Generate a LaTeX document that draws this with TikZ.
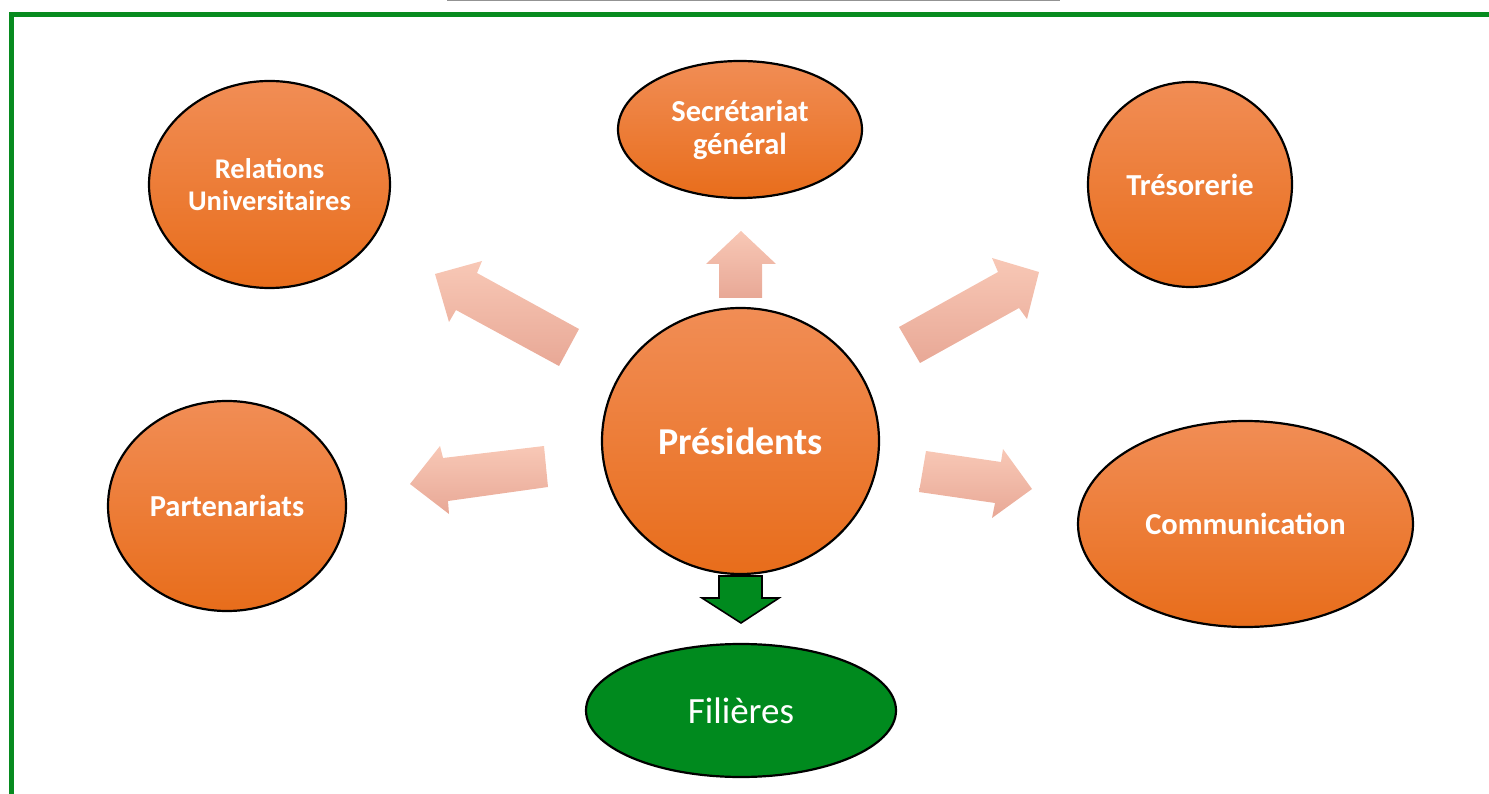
\documentclass[tikz,border=0pt]{standalone}
\usepackage{fontspec}
\setmainfont{Carlito}
\usetikzlibrary{shapes.geometric}
\definecolor{frgreen}{HTML}{078B1F}
\definecolor{elgreen}{HTML}{008A1E}
\definecolor{ortop}{HTML}{F18D55}
\definecolor{ormid}{HTML}{F47D2C}
\definecolor{orbot}{HTML}{E86D1B}
\definecolor{artop}{HTML}{F8C8B6}
\definecolor{armid}{HTML}{F6C0AC}
\definecolor{arbot}{HTML}{E8A896}
\tikzset{
  orangeell/.style={ellipse, draw=black, line width=2.2pt, top color=ortop, middle color=ormid, bottom color=orbot, inner sep=0pt, text=white, font=\bfseries\fontsize{30.5}{33}\selectfont, align=center},
  greenell/.style={ellipse, draw=black, line width=2.2pt, fill=elgreen, inner sep=0pt, text=white, font=\fontsize{37}{44}\selectfont, align=center},
  blockarrow/.style={top color=artop, middle color=armid, bottom color=arbot},
  downarrow/.style={fill=elgreen, draw=black, line width=1.6pt, line join=miter}
}
\begin{document}
\begin{tikzpicture}[x=1pt,y=-1pt]
\useasboundingbox (0,0) rectangle (1489,794);
% top gray edge of box above
\draw[gray!85, line width=2.5pt] (447,0) -- (1060,0);
% green frame
\draw[frgreen, line width=5pt] (11,800) -- (11,14.5) -- (1500,14.5);

% green down arrow (behind the ellipses)
\draw[downarrow] (719,576) -- (762,576) -- (762,598) -- (779,598) -- (741,623) -- (702,598) -- (719,598) -- cycle;

% ellipses
\node[orangeell, minimum width=277pt, minimum height=266pt, font=\bfseries\fontsize{38}{44}\selectfont] (pres) at (740.5,441) {Présidents};
\node[orangeell, minimum width=244pt, minimum height=137pt] (sec) at (740,129.5) {Secrétariat\\général};
\node[orangeell, minimum width=241pt, minimum height=207pt, font=\bfseries\fontsize{28.5}{32}\selectfont] (rel) at (269.5,184.5) {Relations\\Universitaires};
\node[orangeell, minimum width=204pt, minimum height=205pt] (tre) at (1190,184.5) {Trésorerie};
\node[orangeell, minimum width=238pt, minimum height=210pt] (par) at (227,506) {Partenariats};
\node[orangeell, minimum width=335pt, minimum height=206pt] (com) at (1245.5,524) {Communication};
\node[greenell, minimum width=310pt, minimum height=133pt] (fil) at (741,710.5) {Filières};

% block arrows
\shade[blockarrow] (741,231) -- (776,264) -- (762,264) -- (762,298) -- (719,298) -- (719,264) -- (706,264) -- cycle;
\shade[blockarrow] (435,274) -- (482,261) -- (477,273) -- (579,329) -- (559,366) -- (456,310) -- (449,322) -- cycle;
\shade[blockarrow] (1039,272) -- (1027,319) -- (1019,308) -- (920,363) -- (899,327) -- (998,272) -- (992,258) -- cycle;
\shade[blockarrow] (410,484) -- (440,446) -- (443,458) -- (544,446) -- (548,487) -- (448,501) -- (449,514) -- cycle;
\shade[blockarrow] (1032,489) -- (1003,449) -- (1001,462) -- (926,451) -- (919,492) -- (995,503) -- (992,518) -- cycle;
\end{tikzpicture}
\end{document}
